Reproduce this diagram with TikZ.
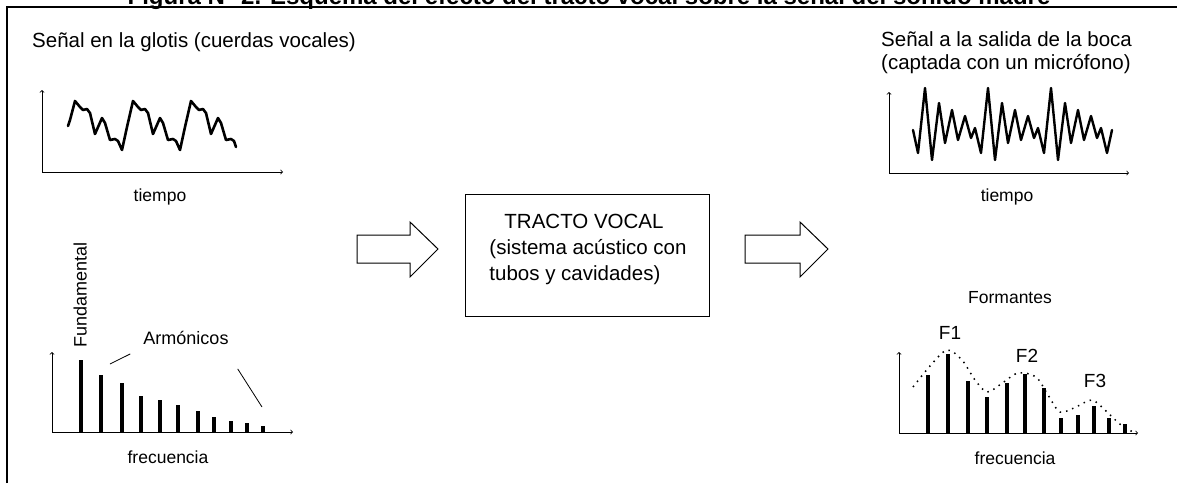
\documentclass[tikz,border=0pt]{standalone}
\usepackage{fontspec}
\setmainfont{Liberation Sans}
\usepackage{tikz}

\tikzset{
  eje/.style={->, line width=0.8pt},
  onda/.style={line width=2.6pt, line join=round, line cap=round},
  barra/.style={line width=4pt},
  envolvente/.style={line width=1.5pt, dash pattern=on 1.5pt off 5pt},
  cuadro/.style={draw, line width=1pt, minimum width=244pt, minimum height=122pt},
  bloque/.style={draw, line width=1pt, line join=miter},
  rotulo/.style={font=\fontsize{20.5}{24}\selectfont, inner sep=0pt},
  etiqueta/.style={font=\fontsize{17.5}{20}\selectfont, inner sep=0pt},
}

\begin{document}
\begin{tikzpicture}[x=1pt,y=-1pt]
\useasboundingbox (0,0) rectangle (1177,483);
% marco y titulo
\node[font=\fontsize{24}{28}\selectfont\bfseries, anchor=base, inner sep=0pt] (titulo) at (589,4) {Figura N° 2. Esquema del efecto del tracto vocal sobre la señal del sonido madre};
\draw[line width=2.5pt] (7,483) -- (7,7) -- (1177,7);

% senal en la glotis
\node[rotulo, anchor=base west] (glotis) at (32,47) {Señal en la glotis (cuerdas vocales)};
\draw[eje] (42,172) -- (42,90);
\draw[eje] (42,172) -- (283,172);
\draw[onda] (68,126) -- (70,120)
  -- (75,101) -- (80,107) -- (83,110) -- (87,109) -- (90,113) -- (95,134) -- (102,118) -- (105,123) -- (110,140) -- (115,139) -- (118,141) -- (122,150) -- (127,127)
  -- (133,101) -- (138,107) -- (141,110) -- (145,109) -- (148,113) -- (153,134) -- (160,118) -- (163,123) -- (168,140) -- (173,139) -- (176,141) -- (180,150) -- (185,127)
  -- (191,101) -- (196,107) -- (199,110) -- (203,109) -- (206,113) -- (211,134) -- (218,118) -- (221,123) -- (226,140) -- (231,139) -- (234,141) -- (236,147);
\node[etiqueta] (tiempo1) at (160,197) {tiempo};

\draw[eje] (52,432) -- (52,352);
\draw[eje] (52,432) -- (293,432);
\draw[barra] (81,432) -- (81,360);
\draw[barra] (101,432) -- (101,375);
\draw[barra] (122,432) -- (122,383);
\draw[barra] (141,432) -- (141,396);
\draw[barra] (160,432) -- (160,400);
\draw[barra] (178,432) -- (178,405);
\draw[barra] (198,432) -- (198,411);
\draw[barra] (214,432) -- (214,417);
\draw[barra] (231,432) -- (231,421);
\draw[barra] (247,432) -- (247,423);
\draw[barra] (263,432) -- (263,426);
\node[etiqueta, font=\fontsize{18}{20}\selectfont, rotate=90, anchor=south west] (fundamental) at (87,348) {Fundamental};
\node[etiqueta, font=\fontsize{18}{20}\selectfont] (armonicos) at (186,338) {Armónicos};
\coordinate (arm1) at (110,364);
\coordinate (arm2) at (262,407);
\draw[line width=0.8pt] (armonicos.south west) ++(-13,9) -- (arm1);
\draw[line width=0.8pt] (armonicos.south east) ++(9,24) -- (arm2);
\node[etiqueta] (frec1) at (168,457) {frecuencia};

% tracto vocal
\draw[bloque] (357,235) -- (410,235) -- (410,222) -- (438,249) -- (410,277) -- (410,263) -- (357,263) -- cycle;
\node[cuadro] (tracto) at (587,255) {};
\node[rotulo, align=left, font=\fontsize{20.5}{26}\selectfont] (tractotxt) at (588,249) {\hspace*{15pt}TRACTO VOCAL\\(sistema acústico con\\tubos y cavidades)};
\draw[bloque] (745,235) -- (800,235) -- (800,222) -- (828,249) -- (800,277) -- (800,263) -- (745,263) -- cycle;

% senal a la salida de la boca
\node[rotulo, anchor=base west, align=left, font=\fontsize{20.5}{22.5}\selectfont] (boca) at (881,69) {Señal a la salida de la boca\\(captada con un micrófono)};
\draw[eje] (889,173) -- (889,92);
\draw[eje] (889,173) -- (1129,173);
\draw[onda, line width=2.4pt] (913,130) -- (918,153)
  -- (925,88) -- (932,160) -- (939,103) -- (945,143) -- (952,110) -- (958,140) -- (965,116) -- (971,138) -- (975,128) -- (981,153)
  -- (988,88) -- (995,160) -- (1002,103) -- (1008,143) -- (1015,110) -- (1021,140) -- (1028,116) -- (1034,138) -- (1038,128) -- (1044,153)
  -- (1051,88) -- (1058,160) -- (1065,103) -- (1071,143) -- (1078,110) -- (1084,140) -- (1091,116) -- (1097,138) -- (1101,128) -- (1107,153)
  -- (1112,130);
\node[etiqueta] (tiempo2) at (1007,197) {tiempo};

\draw[eje] (899,433) -- (899,352);
\draw[eje] (899,433) -- (1138,433);
\draw[barra] (928,433) -- (928,375);
\draw[barra] (948,433) -- (948,354);
\draw[barra] (968,433) -- (968,381);
\draw[barra] (987,433) -- (987,397);
\draw[barra] (1007,433) -- (1007,383);
\draw[barra] (1025,433) -- (1025,374);
\draw[barra] (1044,433) -- (1044,388);
\draw[barra] (1061,433) -- (1061,418);
\draw[barra] (1078,433) -- (1078,415);
\draw[barra] (1094,433) -- (1094,406);
\draw[barra] (1109,433) -- (1109,418);
\draw[barra] (1125,433) -- (1125,424);
\draw[envolvente] plot[smooth] coordinates {(913,387) (930,366) (947,350) (962,360) (975,380) (987,392) (1001,384) (1018,373) (1036,377) (1048,395) (1060,412) (1076,407) (1092,400) (1106,411) (1121,425) (1135,433)};
\node[etiqueta] (formantes) at (1010,298) {Formantes};
\node[etiqueta, font=\fontsize{19}{20}\selectfont] (f1) at (950,333) {F1};
\node[etiqueta, font=\fontsize{19}{20}\selectfont] (f2) at (1027,356) {F2};
\node[etiqueta, font=\fontsize{19}{20}\selectfont] (f3) at (1095,381) {F3};
\node[etiqueta] (frec2) at (1015,458) {frecuencia};
\end{tikzpicture}
\end{document}
